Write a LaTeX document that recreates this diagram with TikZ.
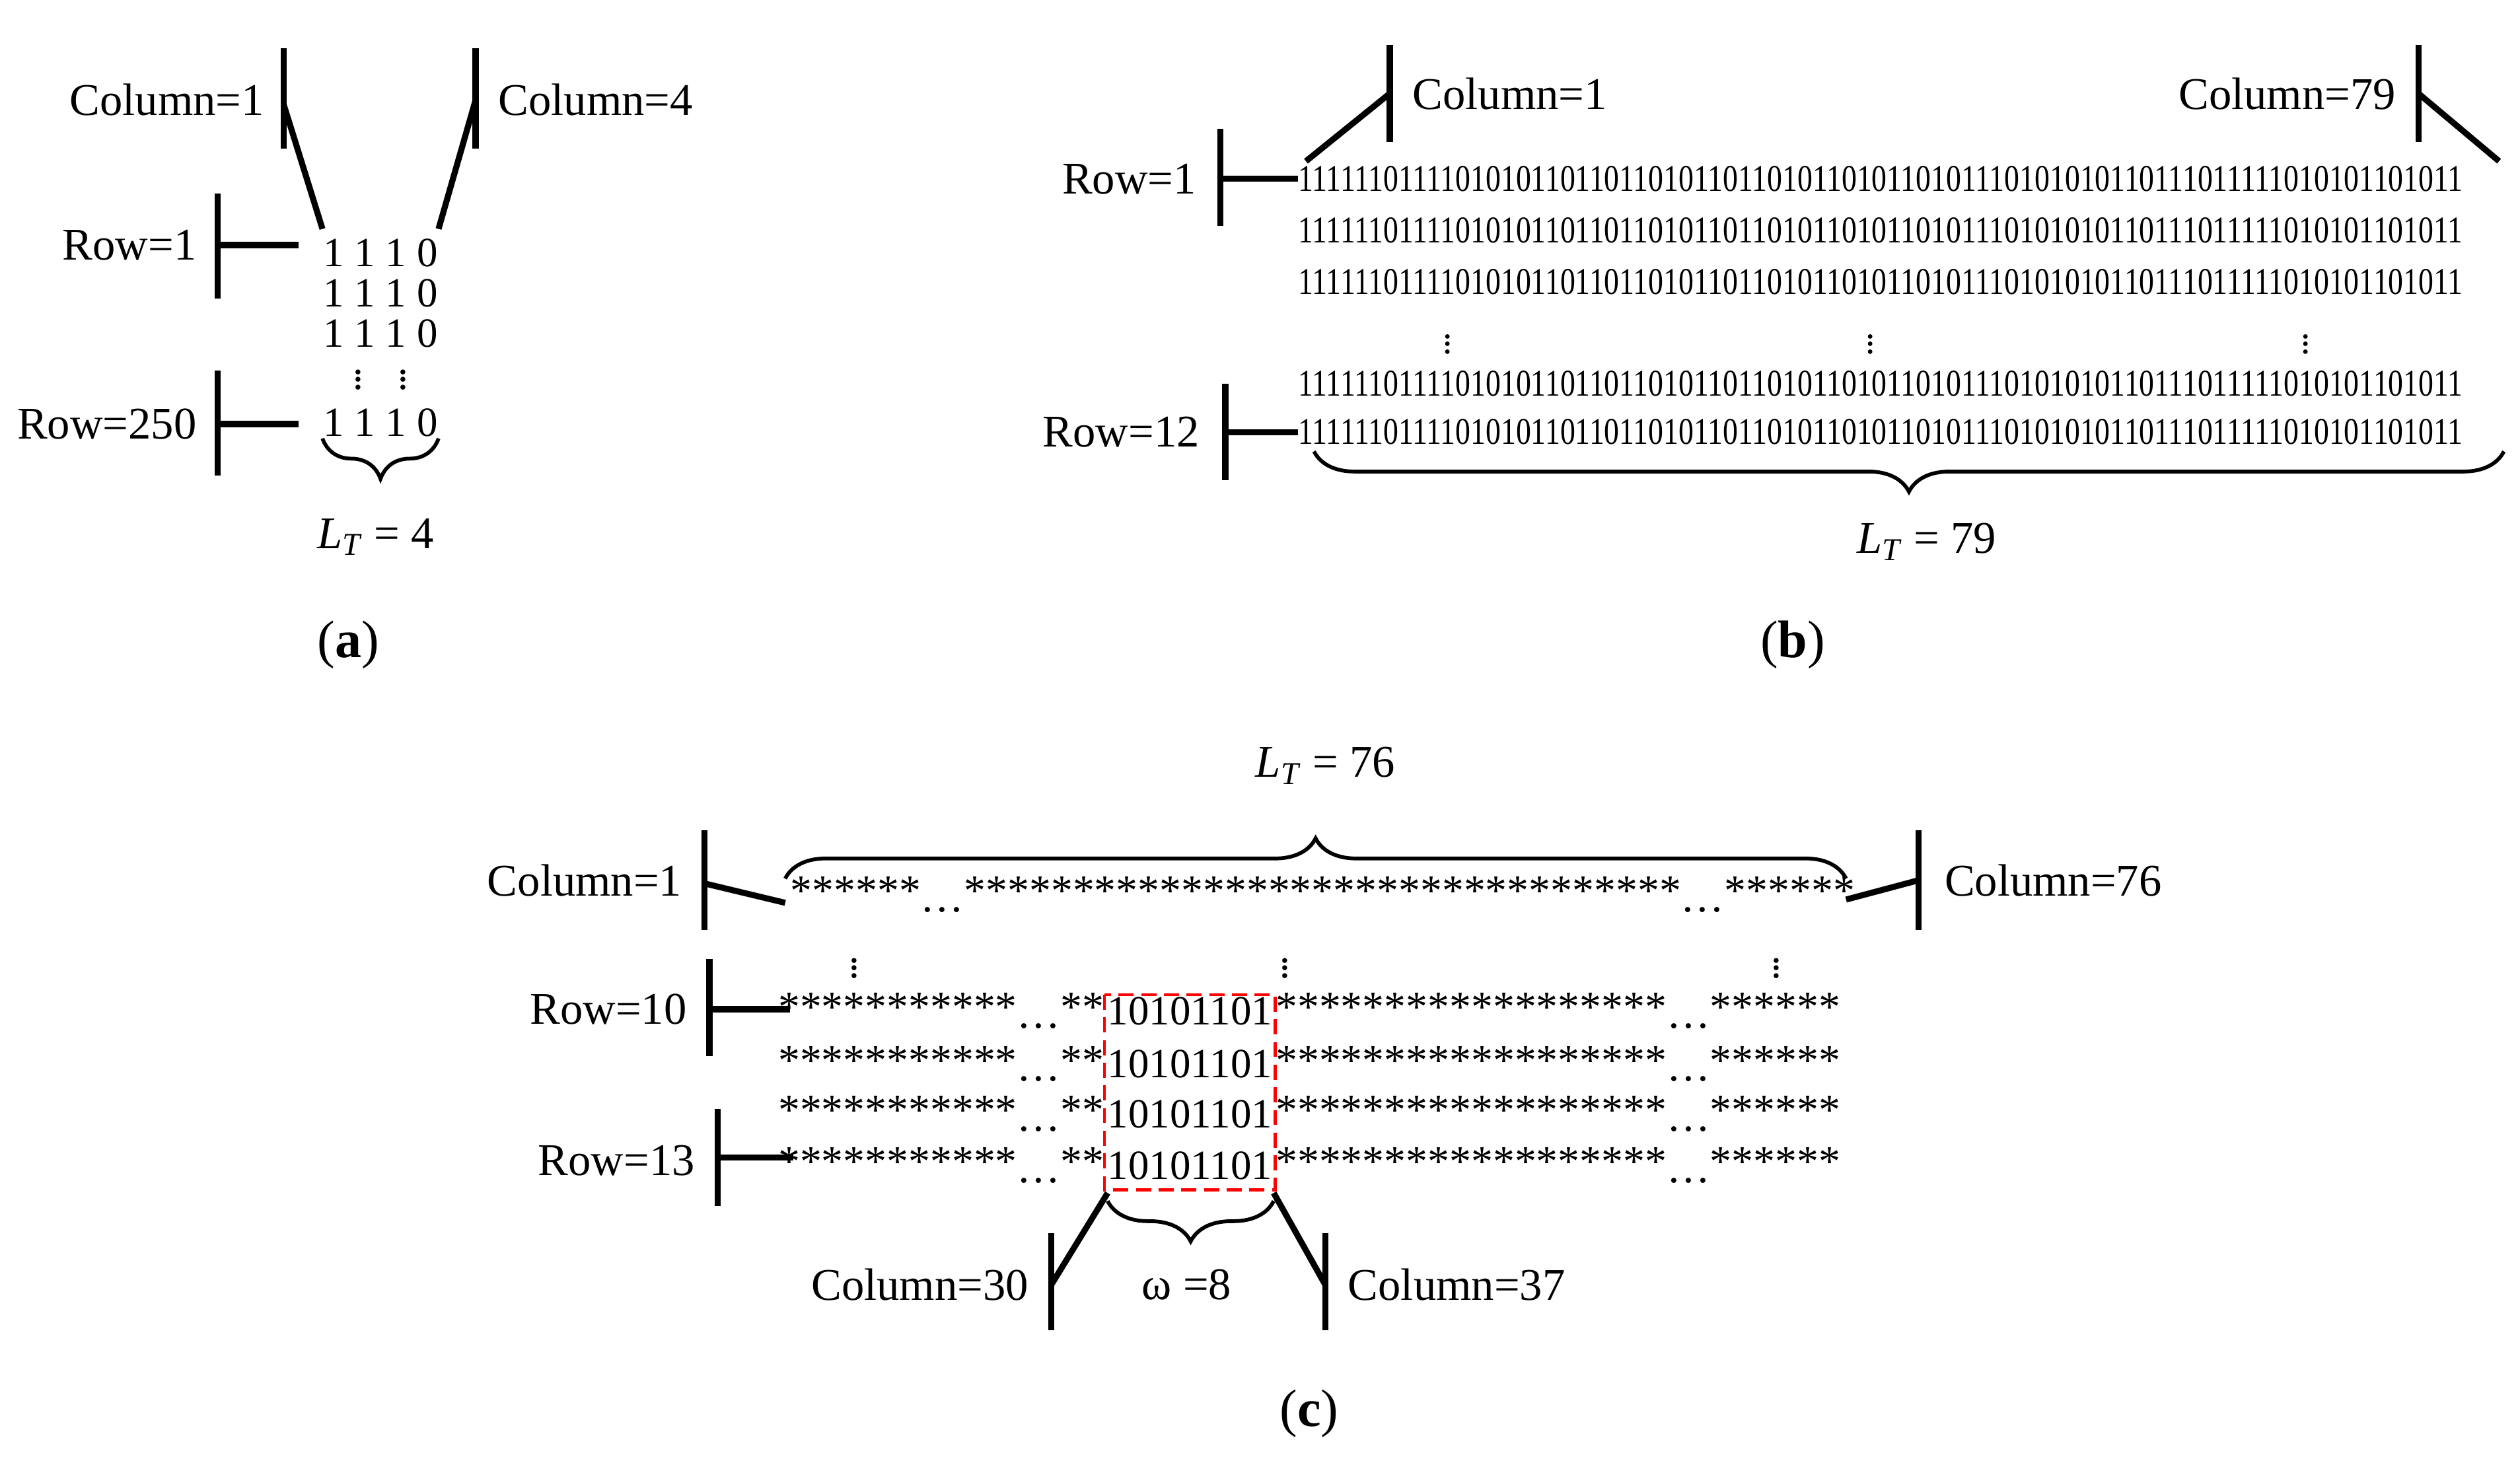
\documentclass[tikz,border=0pt]{standalone}
\usepackage{fontspec}
\setmainfont{Liberation Serif}
\usetikzlibrary{decorations.pathreplacing}
\tikzset{
  lbl/.style={font=\fontsize{24}{28}\selectfont},
  bits/.style={font=\fontsize{22}{26}\selectfont, inner sep=0pt},
  stars/.style={font=\fontsize{23}{26}\selectfont, inner sep=0pt},
  lbits/.style={font=\fontsize{20}{24}\selectfont, inner sep=0pt},
  bar/.style={line width=3.2pt},
  brc/.style={line width=2pt, decorate, decoration={brace, amplitude=0.75cm}},
  panelcap/.style={font=\fontsize{28}{32}\selectfont}
}
\newcommand{\longbits}{1111110111101010110110110101101101011010110101110101010110111011111010101101011}
\newcommand{\LT}{\textit{L}\textsubscript{\textit{T}}}
\newcommand{\dts}{\raisebox{-0.15em}{\ldots}}
\begin{document}
\begin{tikzpicture}[x=0.03cm, y=-0.03cm]
  \useasboundingbox (0,0) rectangle (1563,906);
  % panel (a)
  \node[lbl, anchor=east] (ac1) at (168,62) {Column=1};
  \node[lbl, anchor=west] (ac4) at (305,62) {Column=4};
  \node[lbl, anchor=east] (ar1) at (126,152) {Row=1};
  \node[lbl, anchor=east] (ar250) at (126,263) {Row=250};
  \node[bits] (aa) at (236,157) {1 1 1 0};
  \node[bits] (ab) at (236,182) {1 1 1 0};
  \node[bits] (ac) at (236,207) {1 1 1 0};
  \node[bits] (ad) at (236,232) {$\vdots$\;\;\;$\vdots$};
  \node[bits] (ae) at (236,262) {1 1 1 0};
  \coordinate (at1) at (176,30); \coordinate (ab1) at (176,92);
  \coordinate (at4) at (295,30); \coordinate (ab4) at (295,92);
  \draw[bar] (at1) -- (ab1);
  \draw[bar] (at1|-0,65) -- (200,142);
  \draw[bar] (at4) -- (ab4);
  \draw[bar] (at4|-0,62) -- (272,142);
  \draw[bar] (135,120) -- (135,185);
  \draw[bar] (135,152) -- (185,152);
  \draw[bar] (135,230) -- (135,295);
  \draw[bar] (135,263) -- (185,263);
  \draw[brc] (272,272) -- (200,272);
  \node[lbl] (alt) at (233,333) {\LT\ = 4};
  \node[panelcap] (acap) at (216,400) {(\textbf{a})};
  % panel (b)
  \node[lbl, anchor=west] (bc1) at (872,58) {Column=1};
  \node[lbl, anchor=east] (bc79) at (1490,58) {Column=79};
  \node[lbl, anchor=east] (br1) at (746,111) {Row=1};
  \node[lbl, anchor=east] (br12) at (748,268) {Row=12};
  \foreach \y/\n in {111/r1, 143/r2, 175/r3, 238/r11, 268/r12}
    \node[lbits, anchor=west] (b\n) at (805,\y) {\scalebox{0.8}[1]{\longbits}};
  \foreach \x in {898,1160,1430}
    \node[lbits] at (\x,210) {$\vdots$};
  \draw[bar] (862,28) -- (862,88);
  \draw[bar] (862,58) -- (810,100);
  \draw[bar] (1500,28) -- (1500,88);
  \draw[bar] (1500,58) -- (1550,100);
  \draw[bar] (757,80) -- (757,140);
  \draw[bar] (757,111) -- (805,111);
  \draw[bar] (760,238) -- (760,298);
  \draw[bar] (760,268) -- (805,268);
  \draw[brc] (1553,280) -- (815,280);
  \node[lbl] (blt) at (1195,336) {\LT\ = 79};
  \node[panelcap] (bcap) at (1112,400) {(\textbf{b})};
  % panel (c)
  \node[lbl] (clt) at (822,475) {\LT\ = 76};
  \draw[brc] (487,545) -- (1145,545);
  \node[lbl, anchor=east] (cc1) at (427,546) {Column=1};
  \node[lbl, anchor=west] (cc76) at (1202,546) {Column=76};
  \node[lbl, anchor=east] (cr10) at (430,626) {Row=10};
  \node[lbl, anchor=east] (cr13) at (435,720) {Row=13};
  \node[stars, anchor=west] (cs1) at (490,555) {******\dts*********************************\dts******};
  \foreach \x in {530,797,1102}
    \node[bits] at (\x,597) {$\vdots$};
  \foreach \y in {627,660,691,723} {
    \node[stars, anchor=east] at (685,\y) {***********\dts**};
    \node[bits] at (738,\y) {10101101};
    \node[stars, anchor=west] at (791,\y) {******************\dts******};
  }
  \draw[red, line width=1.6pt, dash pattern=on 8pt off 4pt] (685,617) rectangle (791,738);
  \draw[bar] (437,515) -- (437,577);
  \draw[bar] (437,548) -- (487,560);
  \draw[bar] (1190,515) -- (1190,577);
  \draw[bar] (1190,546) -- (1145,558);
  \draw[bar] (440,595) -- (440,655);
  \draw[bar] (440,626) -- (490,626);
  \draw[bar] (445,688) -- (445,748);
  \draw[bar] (445,718) -- (492,718);
  \node[lbl, anchor=east] (cc30) at (642,797) {Column=30};
  \node[lbl, anchor=west] (cc37) at (832,797) {Column=37};
  \draw[bar] (652,765) -- (652,825);
  \draw[bar] (652,797) -- (687,740);
  \draw[bar] (822,765) -- (822,825);
  \draw[bar] (822,797) -- (790,740);
  \draw[brc] (790,745) -- (687,745);
  \node[lbl] (com) at (736,797) {ω =8};
  \node[panelcap] (ccap) at (812,877) {(\textbf{c})};
\end{tikzpicture}
\end{document}
